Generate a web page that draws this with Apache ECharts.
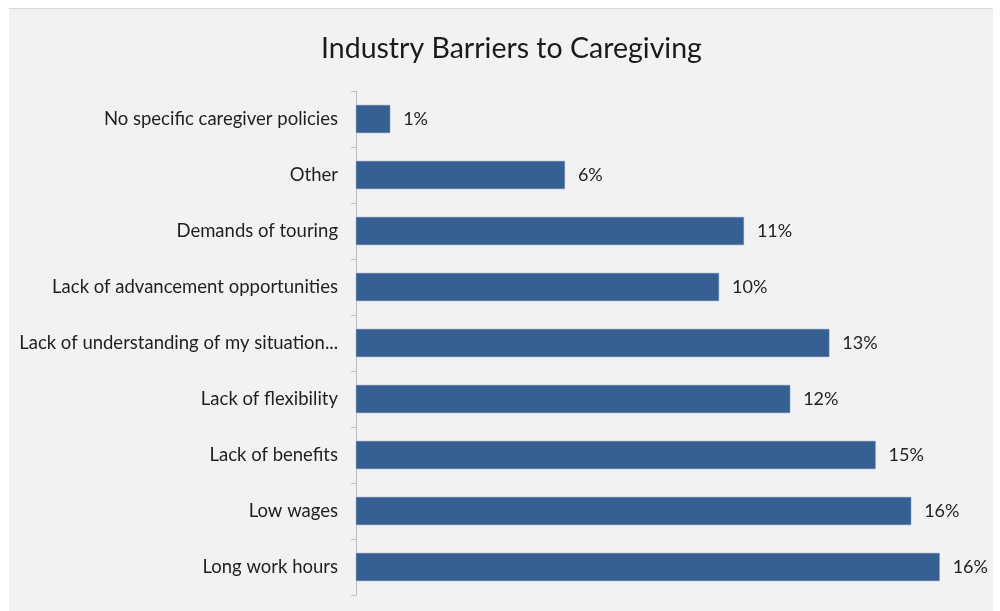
<!DOCTYPE html>
<html>
<head>
<meta charset="utf-8">
<script src="https://cdn.jsdelivr.net/npm/echarts@6/dist/echarts.min.js"></script>
<style>
  html, body { margin: 0; padding: 0; background: #fff; }
  #main { width: 1000px; height: 611px; }
</style>
</head>
<body>
<div id="main"></div>
<script>
// categories listed top to bottom (yAxis is inverted)
var categories = [
  'No specific caregiver policies',
  'Other',
  'Demands of touring',
  'Lack of advancement opportunities',
  'Lack of understanding of my situation...',
  'Lack of flexibility',
  'Lack of benefits',
  'Low wages',
  'Long work hours'
];
// shares in percent
var values = [0.96, 5.87, 10.9, 10.2, 13.3, 12.2, 14.6, 15.6, 16.4];

var myChart = echarts.init(document.getElementById('main'));

var option = {
  backgroundColor: '#ffffff',
  textStyle: { fontFamily: 'Lato' },
  graphic: [
    {
      type: 'rect',
      z: -10,
      shape: { x: 9, y: 8, width: 984, height: 603 },
      style: { fill: '#f2f2f2' }
    },
    {
      type: 'line',
      z: -9,
      shape: { x1: 9, y1: 8.5, x2: 993, y2: 8.5 },
      style: { stroke: '#d9d9d9', lineWidth: 1 }
    }
  ],
  title: {
    text: 'Industry Barriers to Caregiving',
    left: 316,
    top: 29,
    textStyle: {
      fontFamily: 'Lato',
      fontSize: 28.5,
      fontWeight: 'normal',
      color: '#1a1a1a'
    }
  },
  grid: {
    left: 356,
    top: 91,
    width: 605,
    height: 504
  },
  xAxis: {
    type: 'value',
    min: 0,
    max: 17,
    show: false
  },
  yAxis: {
    type: 'category',
    inverse: true,
    data: categories,
    axisLine: { lineStyle: { color: '#bfbfbf', width: 1 } },
    axisTick: { show: true, length: 5, lineStyle: { color: '#bfbfbf' } },
    axisLabel: {
      margin: 18,
      fontFamily: 'Lato',
      fontSize: 18.5,
      color: '#1f1f1f'
    }
  },
  series: [
    {
      type: 'bar',
      data: values,
      barCategoryGap: '50%',
      itemStyle: {
        color: '#376092',
        borderColor: '#5a7eab',
        borderWidth: 0.5
      },
      label: {
        show: true,
        position: 'right',
        distance: 13,
        fontFamily: 'Lato',
        fontSize: 18,
        color: '#1f1f1f',
        formatter: function (p) { return Math.round(p.value) + '%'; }
      }
    }
  ]
};

myChart.setOption(option);
</script>
</body>
</html>
